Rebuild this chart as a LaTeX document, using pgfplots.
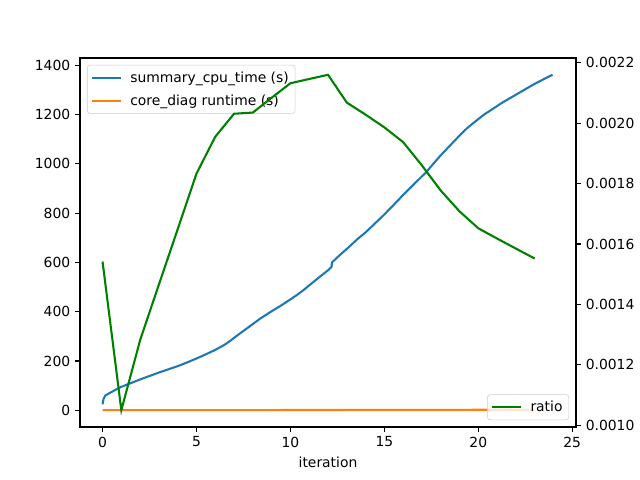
\documentclass[border=0pt]{standalone}
\usepackage{fontspec}
\setmainfont{DejaVu Sans}
\usepackage{pgfplots}
\pgfplotsset{compat=1.18}
\definecolor{cA}{HTML}{1F77B4}
\definecolor{cB}{HTML}{FF7F0E}
\definecolor{cG}{HTML}{008000}
\begin{document}
\begin{tikzpicture}
\pgfplotsset{
  every axis/.append style={
    scale only axis, width=357.12pt, height=265.68pt,
    at={(0,0)}, anchor=south west,
    font=\fontsize{10}{12}\selectfont,
    /pgf/number format/assume math mode=true,
    /pgf/number format/1000 sep={},
    tick align=outside, major tick length=3.5pt,
    every tick/.style={black, line width=0.8pt},
    axis line style={line width=0.8pt},
    legend cell align=left,
    legend image code/.code={\draw[#1, line width=1.5pt] (0pt,0pt) -- (21pt,0pt); \path (25pt,0pt);},
  },
  mylegend/.style={draw=black!20, rounded corners=2pt, fill=white, fill opacity=0.8, text opacity=1,
    font=\fontsize{10}{12}\selectfont, inner xsep=2.5pt, inner ysep=2.5pt, row sep=3.5pt,
    nodes={inner sep=2pt}},
}
\begin{axis}[
  xmin=-1.2, xmax=25.2, ymin=-68.1, ymax=1430.1,
  xtick={0,5,10,15,20,25}, ytick={0,200,400,600,800,1000,1200,1400},
  xtick pos=bottom, ytick pos=left,
  xlabel={iteration},
  legend style={mylegend, at={(0,1)}, anchor=north west, xshift=5pt, yshift=-5pt},
]
\addplot[cA, line width=1.5pt] coordinates {
(0.0,24) (0.05,45) (0.15,60) (0.5,75) (1,95) (1.5,110) (2,125) (2.5,139) (3,153) (3.5,166) (4,179) (4.5,194) (5,210) (5.5,227) (6,245) (6.5,266) (6.8,282) (7,294) (7.5,322) (8,350) (8.39,372) (9,402) (9.5,425) (10,450) (10.33,467) (10.7,488) (11,507) (11.5,538) (12,568) (12.19,582) (12.21,600) (12.6,628) (13,655) (13.16,666) (13.6,697) (14,722) (14.4,751) (15,795) (15.5,834) (15.9,866) (16.5,912) (17.23,967) (17.6,1000) (18,1035) (18.5,1075) (19,1115) (19.4,1145) (19.8,1170) (20.3,1200) (20.8,1225) (21.3,1250) (21.8,1272) (22.54,1305) (23,1325) (23.5,1345) (23.95,1362)
};
\addlegendentry{summary\_cpu\_time (s)}
\addplot[cB, line width=1.5pt] coordinates {
(0,0.1) (2,0.2) (4,0.3) (6,0.5) (8,0.6) (10,0.8) (12,1.0) (14,1.2) (16,1.4) (18,1.6) (20,1.8) (22,2.0) (23,2.1)
};
\addlegendentry{core\_diag runtime (s)}
\end{axis}
\begin{axis}[
  xmin=-1.2, xmax=25.2, ymin=0.0009945, ymax=0.0022155,
  axis x line=none, axis y line*=right,
  ytick={0.0010,0.0012,0.0014,0.0016,0.0018,0.0020,0.0022},
  scaled y ticks=false,
  yticklabel style={/pgf/number format/fixed, /pgf/number format/fixed zerofill, /pgf/number format/precision=4},
  legend style={mylegend, at={(1,0)}, anchor=south east, xshift=-5pt, yshift=5pt},
]
\addplot[cG, line width=1.5pt] coordinates {
(0,0.001542) (1,0.00105) (2,0.001282) (3,0.001466) (4,0.001649) (5,0.001833) (6,0.001955) (7,0.002031) (8,0.002035) (9,0.002084) (10,0.002132) (11,0.002146) (12,0.00216) (13,0.002068) (14,0.002028) (15,0.001986) (16,0.001937) (17,0.00186) (18,0.001777) (19,0.001708) (20,0.001652) (21,0.001618) (22,0.001585) (23,0.001552)
};
\addlegendentry{ratio}
\end{axis}
\path[use as bounding box] (-57.6pt,-38.16pt) rectangle (403.2pt,307.44pt);
\end{tikzpicture}
\end{document}
